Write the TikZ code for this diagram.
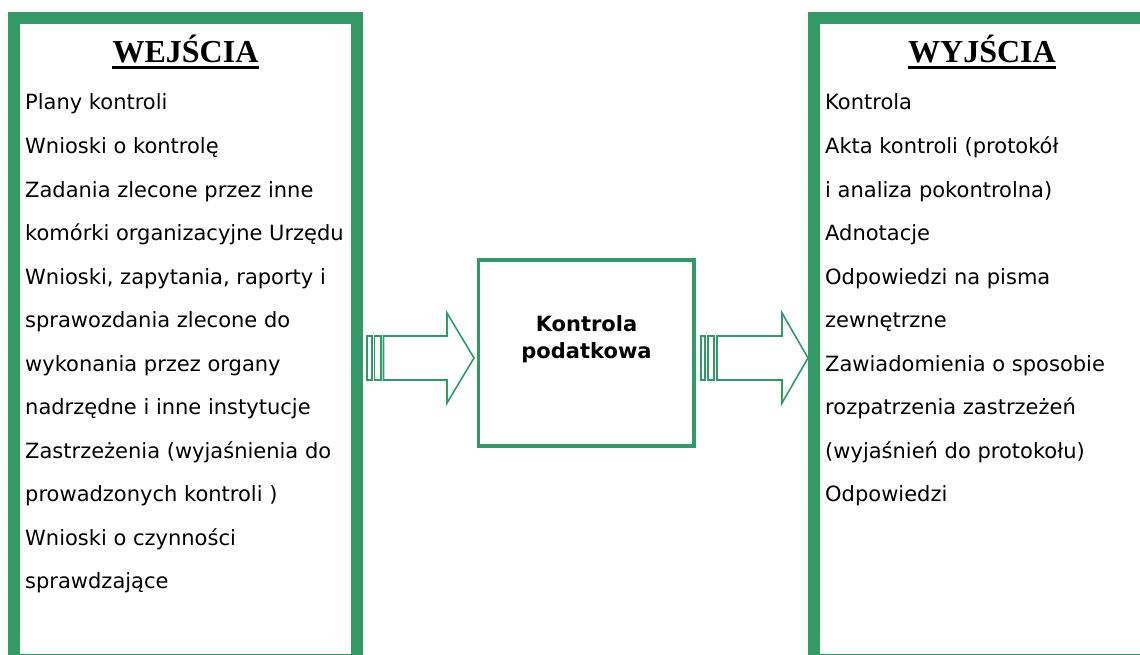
\documentclass[tikz,border=0pt]{standalone}
\usepackage{fontspec}
\setmainfont{DejaVu Sans}
\newfontfamily\headfont{Liberation Serif}
\definecolor{frame}{RGB}{51,153,102}
\begin{document}
\begin{tikzpicture}[x=1pt,y=-1pt,
  panel/.style={draw=frame,line width=12pt},
  core/.style={draw=frame,line width=3.5pt},
  flow/.style={draw=frame,line width=1.6pt,fill=white,line join=miter},
  heading/.style={inner sep=0pt,anchor=base,font=\headfont\bfseries\fontsize{32}{32}\selectfont},
  item/.style={inner sep=0pt,anchor=base west,font=\fontsize{21}{21}\selectfont},
  uline/.style={line width=3pt}]
\useasboundingbox (0,0) rectangle (1140,655);
\clip (0,0) rectangle (1140,655);

% input and output panels
\draw[panel] (14,18) rectangle (357,660);
\draw[panel] (814,18) rectangle (1160,660);

% process box
\draw[core] (478.5,260) rectangle (694,446);
\node[inner sep=0pt,anchor=base,font=\bfseries\fontsize{21}{21}\selectfont] (k1) at (586.5,331) {Kontrola};
\node[inner sep=0pt,anchor=base,font=\bfseries\fontsize{21}{21}\selectfont] (k2) at (586.5,358) {podatkowa};

% headings
\node[heading] (hin) at (185.5,63) {WEJŚCIA};
\draw[uline] ([yshift=-4.5pt]hin.base west) -- ([yshift=-4.5pt]hin.base east);
\node[heading] (hout) at (982,63) {WYJŚCIA};
\draw[uline] ([yshift=-4.5pt]hout.base west) -- ([yshift=-4.5pt]hout.base east);

% input list
\foreach \t [count=\i] in {Plany kontroli,Wnioski o kontrolę,Zadania zlecone przez inne,
  komórki organizacyjne Urzędu,{Wnioski, zapytania, raporty i},sprawozdania zlecone do,
  wykonania przez organy,nadrzędne i inne instytucje,Zastrzeżenia (wyjaśnienia do,
  prowadzonych kontroli ),Wnioski o czynności,sprawdzające}
  \node[item] (in\i) at (25,{110+43.5*(\i-1)}) {\t};

% output list
\foreach \t [count=\i] in {Kontrola,Akta kontroli (protokół,i analiza pokontrolna),
  Adnotacje,Odpowiedzi na pisma,zewnętrzne,Zawiadomienia o sposobie,
  rozpatrzenia zastrzeżeń,(wyjaśnień do protokołu),Odpowiedzi}
  \node[item] (out\i) at (825,{110+43.5*(\i-1)}) {\t};

% striped block arrows
\coordinate (a1) at (474,358);
\draw[flow] (367,336) rectangle (372,380);
\draw[flow] (374.5,336) rectangle (381,380);
\draw[flow] (383.5,336) -- (447,336) -- (447,313) -- (a1) -- (447,403) -- (447,380) -- (383.5,380) -- cycle;

\coordinate (a2) at (808,358);
\draw[flow] (701,336) rectangle (705,380);
\draw[flow] (708,336) rectangle (714,380);
\draw[flow] (717,336) -- (782,336) -- (782,313) -- (a2) -- (782,403) -- (782,380) -- (717,380) -- cycle;
\end{tikzpicture}
\end{document}
